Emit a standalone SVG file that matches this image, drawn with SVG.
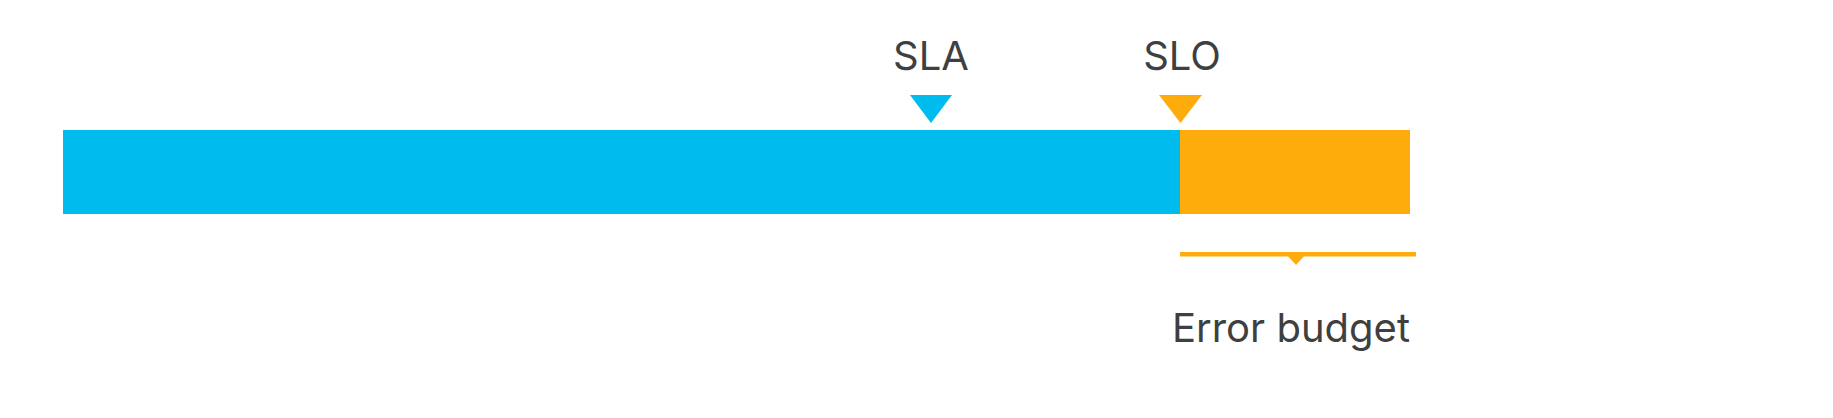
<svg xmlns="http://www.w3.org/2000/svg" width="1833" height="418" viewBox="0 0 1833 418">
<style>
.lbl{font-family:Inter,"Liberation Sans",sans-serif;font-size:40px;fill:#3f3f3f}
.blue{fill:#00bbee}
.orange{fill:#fdac0c}
</style>
<rect width="1833" height="418" fill="#ffffff"/>
<g id="bar-sla-range"><rect class="blue" x="63" y="130" width="1117" height="84"/></g>
<g id="bar-error-budget"><rect class="orange" x="1180" y="130" width="230" height="84"/></g>
<g id="marker-sla">
<polygon class="blue" points="910,95 952,95 931,123"/>
<text class="lbl" x="931" y="70" text-anchor="middle">SLA</text>
</g>
<g id="marker-slo">
<polygon class="orange" points="1159,95 1202,95 1180.5,123"/>
<text class="lbl" x="1182" y="70" text-anchor="middle">SLO</text>
</g>
<g id="connectors">
<rect class="orange" x="1180" y="252" width="236" height="4.5"/>
<polygon class="orange" points="1287,255 1305,255 1296,265"/>
</g>
<g id="label-error-budget">
<text class="lbl" x="1291" y="342" text-anchor="middle">Error budget</text>
</g>
</svg>
